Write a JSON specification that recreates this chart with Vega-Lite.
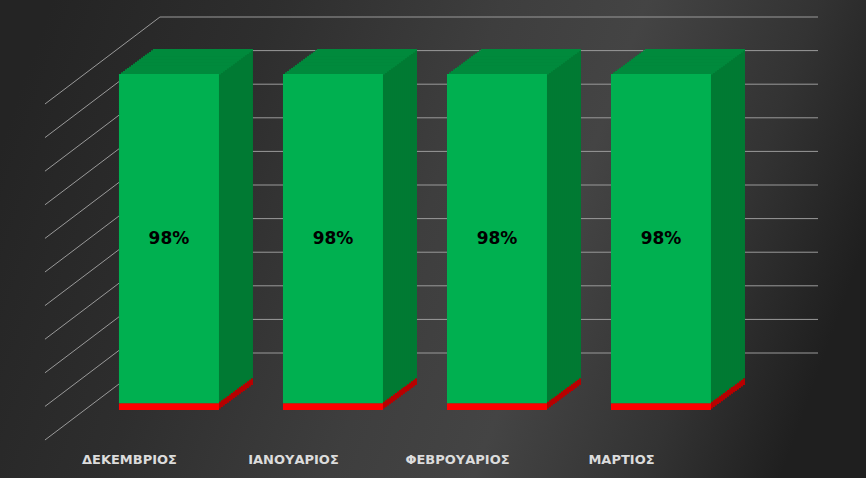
{
  "$schema": "https://vega.github.io/schema/vega-lite/v6.json",
  "width": 658,
  "height": 393,
  "autosize": {"type": "none"},
  "padding": {"left": 160, "top": 17, "right": 48, "bottom": 68},
  "background": "#2a2a2a",
  "config": {"view": {"stroke": null}},
  "datasets": {
    "months": [
      {"month": "ΔΕΚΕΜΒΡΙΟΣ", "status": "fail", "value": 0.02},
      {"month": "ΔΕΚΕΜΒΡΙΟΣ", "status": "ok", "value": 0.98},
      {"month": "ΙΑΝΟΥΑΡΙΟΣ", "status": "fail", "value": 0.02},
      {"month": "ΙΑΝΟΥΑΡΙΟΣ", "status": "ok", "value": 0.98},
      {"month": "ΦΕΒΡΟΥΑΡΙΟΣ", "status": "fail", "value": 0.02},
      {"month": "ΦΕΒΡΟΥΑΡΙΟΣ", "status": "ok", "value": 0.98},
      {"month": "ΜΑΡΤΙΟΣ", "status": "fail", "value": 0.02},
      {"month": "ΜΑΡΤΙΟΣ", "status": "ok", "value": 0.98}
    ],
    "grid": [
      {"v": 0}, {"v": 10}, {"v": 20}, {"v": 30}, {"v": 40}, {"v": 50},
      {"v": 60}, {"v": 70}, {"v": 80}, {"v": 90}, {"v": 100}
    ]
  },
  "layer": [
    {
      "layer": [
        {
          "data": {"values": [{}]},
          "mark": {
            "type": "rect",
            "xOffset": -169, "x2Offset": 206, "yOffset": -17, "y2Offset": 125,
            "fill": {
              "gradient": "linear",
              "x1": 0, "y1": 0.3, "x2": 1, "y2": 0.5,
              "stops": [
                {"offset": 0, "color": "#242424"},
                {"offset": 0.25, "color": "#2e2e2e"},
                {"offset": 0.5, "color": "#3e3e3e"},
                {"offset": 0.66, "color": "#444444"},
                {"offset": 0.85, "color": "#333333"},
                {"offset": 1, "color": "#1f1f1f"}
              ]
            }
          },
          "encoding": {
            "x": {"datum": "ΔΕΚΕΜΒΡΙΟΣ", "type": "nominal"},
            "x2": {"datum": "ΜΑΡΤΙΟΣ"},
            "y": {"datum": 100, "type": "quantitative", "axis": null},
            "y2": {"datum": 0}
          }
        },
        {
          "data": {"name": "grid"},
          "mark": {"type": "rule", "color": "#9a9a9a", "strokeWidth": 1},
          "encoding": {
            "y": {"field": "v", "type": "quantitative", "scale": {"domain": [-16.96, 100], "nice": false, "zero": false}, "axis": null}
          }
        },
        {
          "data": {"name": "grid"},
          "mark": {"type": "rule", "color": "#9a9a9a", "strokeWidth": 1, "xOffset": -9, "x2Offset": -124, "y2Offset": 87},
          "encoding": {
            "x": {"datum": "ΔΕΚΕΜΒΡΙΟΣ", "type": "nominal"},
            "x2": {"datum": "ΔΕΚΕΜΒΡΙΟΣ"},
            "y": {"field": "v", "type": "quantitative", "axis": null},
            "y2": {"field": "v"}
          }
        }
      ]
    },
    {
      "data": {"name": "months"},
      "encoding": {
        "x": {
          "field": "month", "type": "nominal", "sort": null,
          "scale": {"type": "point", "domain": ["ΔΕΚΕΜΒΡΙΟΣ", "ΙΑΝΟΥΑΡΙΟΣ", "ΦΕΒΡΟΥΑΡΙΟΣ", "ΜΑΡΤΙΟΣ"], "padding": 0.506, "align": 0.054},
          "axis": {"title": null, "domain": false, "ticks": false, "grid": false, "labelAngle": 0, "labelAlign": "center", "labelPadding": 49, "labelOffset": -40, "labelColor": "#dcdcdc", "labelFont": "DejaVu Sans", "labelFontWeight": "bold", "labelFontSize": 13}
        },
        "y": {"field": "value", "type": "quantitative", "stack": "zero", "scale": {"domain": [0, 1.1696], "nice": false}, "axis": null},
        "detail": {"field": "status"},
        "order": {"field": "status", "sort": "ascending"},
        "color": {"condition": {"test": "datum.status === 'fail'", "value": "#b80000"}, "value": "#007a33"}
      },
      "layer": [
        {"mark": {"type": "bar", "width": 100, "xOffset": 34, "yOffset": -25, "y2Offset": -25}},
        {"mark": {"type": "bar", "width": 100, "xOffset": 32, "yOffset": -23.53, "y2Offset": -23.53}},
        {"mark": {"type": "bar", "width": 100, "xOffset": 30, "yOffset": -22.06, "y2Offset": -22.06}},
        {"mark": {"type": "bar", "width": 100, "xOffset": 28, "yOffset": -20.59, "y2Offset": -20.59}},
        {"mark": {"type": "bar", "width": 100, "xOffset": 26, "yOffset": -19.12, "y2Offset": -19.12}},
        {"mark": {"type": "bar", "width": 100, "xOffset": 24, "yOffset": -17.65, "y2Offset": -17.65}},
        {"mark": {"type": "bar", "width": 100, "xOffset": 22, "yOffset": -16.18, "y2Offset": -16.18}},
        {"mark": {"type": "bar", "width": 100, "xOffset": 20, "yOffset": -14.71, "y2Offset": -14.71}},
        {"mark": {"type": "bar", "width": 100, "xOffset": 18, "yOffset": -13.24, "y2Offset": -13.24}},
        {"mark": {"type": "bar", "width": 100, "xOffset": 16, "yOffset": -11.76, "y2Offset": -11.76}},
        {"mark": {"type": "bar", "width": 100, "xOffset": 14, "yOffset": -10.29, "y2Offset": -10.29}},
        {"mark": {"type": "bar", "width": 100, "xOffset": 12, "yOffset": -8.82, "y2Offset": -8.82}},
        {"mark": {"type": "bar", "width": 100, "xOffset": 10, "yOffset": -7.35, "y2Offset": -7.35}},
        {"mark": {"type": "bar", "width": 100, "xOffset": 8, "yOffset": -5.88, "y2Offset": -5.88}},
        {"mark": {"type": "bar", "width": 100, "xOffset": 6, "yOffset": -4.41, "y2Offset": -4.41}},
        {"mark": {"type": "bar", "width": 100, "xOffset": 4, "yOffset": -2.94, "y2Offset": -2.94}},
        {"mark": {"type": "bar", "width": 100, "xOffset": 2, "yOffset": -1.47, "y2Offset": -1.47}},
        {"mark": {"type": "bar", "width": 100, "color": "#008a3c", "xOffset": 2, "yOffset": -1.47, "y2Offset": 0.5}, "encoding": {"y": {"aggregate": "sum", "field": "value", "type": "quantitative", "axis": null}, "y2": {"aggregate": "sum", "field": "value"}, "detail": null, "order": null, "color": null}},
        {"mark": {"type": "bar", "width": 100, "color": "#008a3c", "xOffset": 4, "yOffset": -2.94, "y2Offset": -0.97}, "encoding": {"y": {"aggregate": "sum", "field": "value", "type": "quantitative", "axis": null}, "y2": {"aggregate": "sum", "field": "value"}, "detail": null, "order": null, "color": null}},
        {"mark": {"type": "bar", "width": 100, "color": "#008a3c", "xOffset": 6, "yOffset": -4.41, "y2Offset": -2.44}, "encoding": {"y": {"aggregate": "sum", "field": "value", "type": "quantitative", "axis": null}, "y2": {"aggregate": "sum", "field": "value"}, "detail": null, "order": null, "color": null}},
        {"mark": {"type": "bar", "width": 100, "color": "#008a3c", "xOffset": 8, "yOffset": -5.88, "y2Offset": -3.91}, "encoding": {"y": {"aggregate": "sum", "field": "value", "type": "quantitative", "axis": null}, "y2": {"aggregate": "sum", "field": "value"}, "detail": null, "order": null, "color": null}},
        {"mark": {"type": "bar", "width": 100, "color": "#008a3c", "xOffset": 10, "yOffset": -7.35, "y2Offset": -5.38}, "encoding": {"y": {"aggregate": "sum", "field": "value", "type": "quantitative", "axis": null}, "y2": {"aggregate": "sum", "field": "value"}, "detail": null, "order": null, "color": null}},
        {"mark": {"type": "bar", "width": 100, "color": "#008a3c", "xOffset": 12, "yOffset": -8.82, "y2Offset": -6.85}, "encoding": {"y": {"aggregate": "sum", "field": "value", "type": "quantitative", "axis": null}, "y2": {"aggregate": "sum", "field": "value"}, "detail": null, "order": null, "color": null}},
        {"mark": {"type": "bar", "width": 100, "color": "#008a3c", "xOffset": 14, "yOffset": -10.29, "y2Offset": -8.32}, "encoding": {"y": {"aggregate": "sum", "field": "value", "type": "quantitative", "axis": null}, "y2": {"aggregate": "sum", "field": "value"}, "detail": null, "order": null, "color": null}},
        {"mark": {"type": "bar", "width": 100, "color": "#008a3c", "xOffset": 16, "yOffset": -11.76, "y2Offset": -9.79}, "encoding": {"y": {"aggregate": "sum", "field": "value", "type": "quantitative", "axis": null}, "y2": {"aggregate": "sum", "field": "value"}, "detail": null, "order": null, "color": null}},
        {"mark": {"type": "bar", "width": 100, "color": "#008a3c", "xOffset": 18, "yOffset": -13.24, "y2Offset": -11.26}, "encoding": {"y": {"aggregate": "sum", "field": "value", "type": "quantitative", "axis": null}, "y2": {"aggregate": "sum", "field": "value"}, "detail": null, "order": null, "color": null}},
        {"mark": {"type": "bar", "width": 100, "color": "#008a3c", "xOffset": 20, "yOffset": -14.71, "y2Offset": -12.74}, "encoding": {"y": {"aggregate": "sum", "field": "value", "type": "quantitative", "axis": null}, "y2": {"aggregate": "sum", "field": "value"}, "detail": null, "order": null, "color": null}},
        {"mark": {"type": "bar", "width": 100, "color": "#008a3c", "xOffset": 22, "yOffset": -16.18, "y2Offset": -14.21}, "encoding": {"y": {"aggregate": "sum", "field": "value", "type": "quantitative", "axis": null}, "y2": {"aggregate": "sum", "field": "value"}, "detail": null, "order": null, "color": null}},
        {"mark": {"type": "bar", "width": 100, "color": "#008a3c", "xOffset": 24, "yOffset": -17.65, "y2Offset": -15.68}, "encoding": {"y": {"aggregate": "sum", "field": "value", "type": "quantitative", "axis": null}, "y2": {"aggregate": "sum", "field": "value"}, "detail": null, "order": null, "color": null}},
        {"mark": {"type": "bar", "width": 100, "color": "#008a3c", "xOffset": 26, "yOffset": -19.12, "y2Offset": -17.15}, "encoding": {"y": {"aggregate": "sum", "field": "value", "type": "quantitative", "axis": null}, "y2": {"aggregate": "sum", "field": "value"}, "detail": null, "order": null, "color": null}},
        {"mark": {"type": "bar", "width": 100, "color": "#008a3c", "xOffset": 28, "yOffset": -20.59, "y2Offset": -18.62}, "encoding": {"y": {"aggregate": "sum", "field": "value", "type": "quantitative", "axis": null}, "y2": {"aggregate": "sum", "field": "value"}, "detail": null, "order": null, "color": null}},
        {"mark": {"type": "bar", "width": 100, "color": "#008a3c", "xOffset": 30, "yOffset": -22.06, "y2Offset": -20.09}, "encoding": {"y": {"aggregate": "sum", "field": "value", "type": "quantitative", "axis": null}, "y2": {"aggregate": "sum", "field": "value"}, "detail": null, "order": null, "color": null}},
        {"mark": {"type": "bar", "width": 100, "color": "#008a3c", "xOffset": 32, "yOffset": -23.53, "y2Offset": -21.56}, "encoding": {"y": {"aggregate": "sum", "field": "value", "type": "quantitative", "axis": null}, "y2": {"aggregate": "sum", "field": "value"}, "detail": null, "order": null, "color": null}},
        {"mark": {"type": "bar", "width": 100, "color": "#008a3c", "xOffset": 34, "yOffset": -25, "y2Offset": -23.03}, "encoding": {"y": {"aggregate": "sum", "field": "value", "type": "quantitative", "axis": null}, "y2": {"aggregate": "sum", "field": "value"}, "detail": null, "order": null, "color": null}},
        {
          "mark": {"type": "bar", "width": 100},
          "encoding": {"color": {"condition": {"test": "datum.status === 'fail'", "value": "#ff0000"}, "value": "#00b050"}}
        },
        {
          "mark": {"type": "text", "font": "DejaVu Sans", "fontWeight": "bold", "fontSize": 17, "baseline": "middle"},
          "encoding": {
            "y": {"field": "value", "type": "quantitative", "stack": "zero", "bandPosition": 0.5, "axis": null},
            "text": {"field": "value", "type": "quantitative", "format": ".0%"},
            "color": {"value": "#000000"},
            "opacity": {"condition": {"test": "datum.status === 'fail'", "value": 0}, "value": 1}
          }
        }
      ]
    }
  ],
  "resolve": {"scale": {"y": "independent"}}
}
